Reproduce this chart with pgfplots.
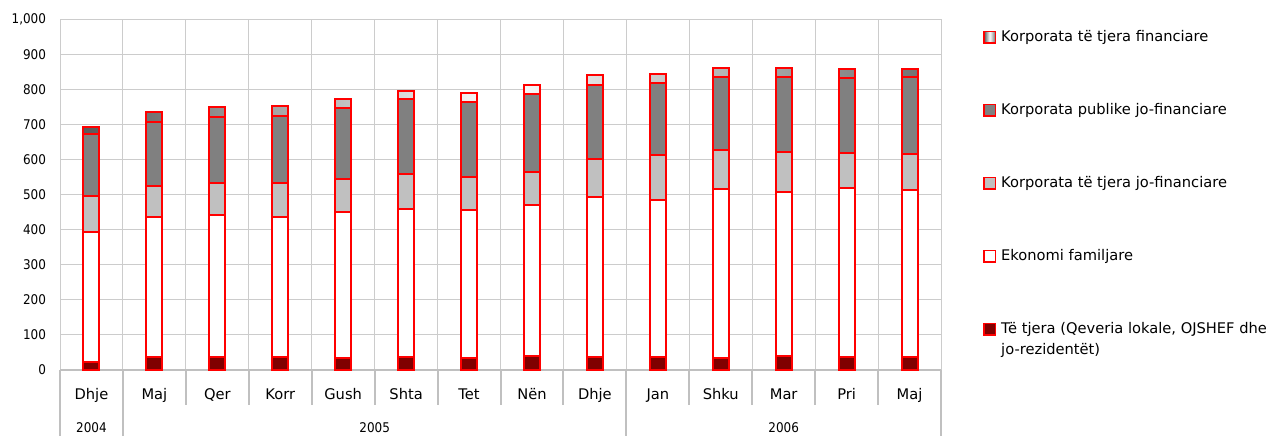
\documentclass[border=0pt]{standalone}
\usepackage{fontspec}
\setmainfont{DejaVu Sans}
\newfontfamily\numfont{DejaVu Sans Condensed}
\usepackage{pgfplots}
\pgfplotsset{compat=1.18}
\usepackage{pgfplotstable}

\definecolor{barred}{HTML}{800000}
\definecolor{lgray}{HTML}{C0C0C0}
\definecolor{dgray}{HTML}{808080}
\definecolor{gridc}{HTML}{CCCCCC}
\definecolor{sepc}{HTML}{C0C0C0}

% x  tjera  familje  tjnf  pubnf  fin
\pgfplotstableread{
x  oth  hh   onf  pnf  fin
0  24   369  104  175  22
1  36   401  89   182  29
2  36   407  90   188  28
3  37   400  96   191  29
4  33   418  93   203  26
5  36   423  101  212  25
6  35   421  95   213  26
7  40   430  96   222  26
8  38   455  110  210  29
9  38   447  128  205  27
10 35   481  111  208  26
11 39   468  116  212  26
12 36   482  100  216  25
13 36   478  102  219  25
}\data

\begin{document}
\begin{tikzpicture}[font=\fontsize{11}{15.5}\selectfont]
\path[use as bounding box] (0,0) rectangle (958.5pt,327pt);
\begin{axis}[
    at={(45pt,49.5pt)}, anchor=south west,
    scale only axis, width=660.75pt, height=262.9pt,
    ybar stacked, bar width=12pt,
    xmin=-0.5, xmax=13.5, ymin=0, ymax=1000,
    ytick={0,100,...,1000},
    xtick=data,
    xticklabels={Dhje,Maj,Qer,Korr,Gush,Shta,Tet,Nën,Dhje,Jan,Shku,Mar,Pri,Maj},
    minor xtick={-0.5,0.5,...,13.5},
    ymajorgrids, xminorgrids,
    grid style={gridc, line width=0.75pt},
    minor grid style={gridc, line width=0.75pt},
    axis line style={draw=none},
    tick style={draw=none},
    /pgf/number format/assume math mode=true,
    /pgf/number format/1000 sep={,},
    yticklabel style={xshift=-7pt, font=\numfont},
    xticklabel style={anchor=base, yshift=-22pt},
    clip=false,
    reverse legend,
    every axis plot/.append style={draw=red, line width=1.5pt},
    legend image code/.code={\draw[#1, line width=1.2pt] (0pt,-4.25pt) rectangle (8.5pt,4.25pt);},
    legend style={at={(rel axis cs:1,1)}, anchor=north west, xshift=31.5pt, yshift=-7.4pt,
        draw=none, fill=none, inner sep=0pt, row sep=43.25pt,
        cells={anchor=west},
        nodes={inner sep=0pt, text height=8.8pt, text depth=2.7pt},
        /tikz/every odd column/.append style={column sep=3.75pt}},
]
\addplot[fill=barred] table[x=x, y=oth] \data;
\addplot[fill=white] table[x=x, y=hh] \data;
\addplot[fill=lgray] table[x=x, y=onf] \data;
\addplot[fill=dgray] table[x=x, y=pnf] \data;
\addplot[left color=black!65, right color=black!55, middle color=white] table[x=x, y=fin] \data;

\legend{\parbox[t]{240pt}{Të tjera (Qeveria lokale, OJSHEF dhe\\jo-rezidentët)},
    Ekonomi familjare, Korporata të tjera jo-financiare,
    Korporata publike jo-financiare, Korporata të tjera financiare}

\draw[sepc, line width=1.5pt] (axis cs:-0.5,0) -- (axis cs:13.5,0);
\pgfplotsinvokeforeach{1.5,2.5,3.5,4.5,5.5,6.5,7.5,9.5,10.5,11.5,12.5}{
    \draw[sepc, line width=1.5pt] (axis cs:#1,0) -- ([yshift=-26pt]axis cs:#1,0);
}
\pgfplotsinvokeforeach{-0.5,0.5,8.5,13.5}{
    \draw[sepc, line width=1.5pt] (axis cs:#1,0) -- ([yshift=-49.5pt]axis cs:#1,0);
}
\node[anchor=base, font=\numfont] at ([yshift=-47pt]axis cs:0,0) {2004};
\node[anchor=base, font=\numfont] at ([yshift=-47pt]axis cs:4.5,0) {2005};
\node[anchor=base, font=\numfont] at ([yshift=-47pt]axis cs:11,0) {2006};
\end{axis}
\end{tikzpicture}
\end{document}
